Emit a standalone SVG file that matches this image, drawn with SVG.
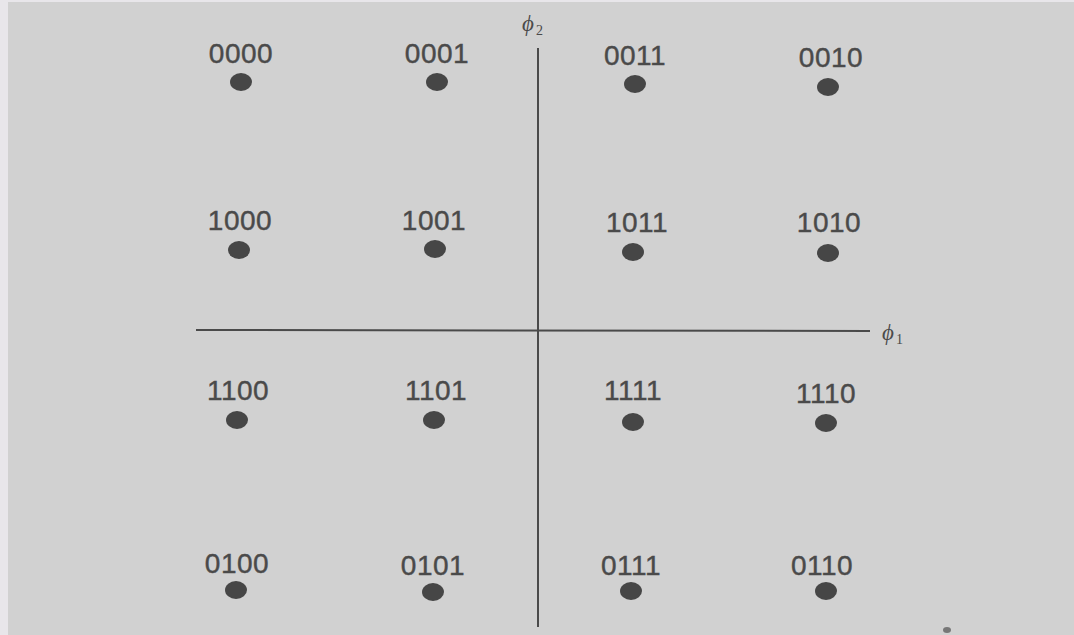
<svg xmlns="http://www.w3.org/2000/svg" width="1074" height="635" viewBox="0 0 1074 635">
<style>
.lbl{font-family:"Liberation Sans",Arial,sans-serif;font-size:28px;fill:#4a4a4a;stroke:#4a4a4a;stroke-width:0.4;text-anchor:middle;letter-spacing:0.5px}
.dot{fill:#464646}
.ax{stroke:#4a4a4a;stroke-width:2;fill:none}
.phi{font-family:"Liberation Serif","DejaVu Serif",serif;font-style:italic;font-size:23px;fill:#4a4a4a}
.sub{font-style:normal;font-size:14px}
</style>
<rect width="1074" height="635" fill="#e8e6ea"/>
<rect x="8" y="2" width="1066" height="633" fill="#d1d1d1"/>
<g id="axes">
<line class="ax" x1="538" y1="48" x2="538" y2="627"/>
<line class="ax" x1="196" y1="330" x2="870" y2="331"/>
<text class="phi" x="522" y="31">ϕ<tspan class="sub" dy="4" dx="2">2</tspan></text>
<text class="phi" x="882" y="340">ϕ<tspan class="sub" dy="4" dx="2">1</tspan></text>
</g>
<g id="n0000"><text class="lbl" x="241" y="63">0000</text><ellipse class="dot" cx="241" cy="82" rx="11" ry="9"/></g>
<g id="n0001"><text class="lbl" x="437" y="63">0001</text><ellipse class="dot" cx="437" cy="82" rx="11" ry="9"/></g>
<g id="n0011"><text class="lbl" x="635" y="65">0011</text><ellipse class="dot" cx="635" cy="84" rx="11" ry="9"/></g>
<g id="n0010"><text class="lbl" x="831" y="67">0010</text><ellipse class="dot" cx="828" cy="87" rx="11" ry="9"/></g>
<g id="n1000"><text class="lbl" x="240" y="230">1000</text><ellipse class="dot" cx="239" cy="250" rx="11" ry="9"/></g>
<g id="n1001"><text class="lbl" x="434" y="230">1001</text><ellipse class="dot" cx="435" cy="249" rx="11" ry="9"/></g>
<g id="n1011"><text class="lbl" x="637" y="232">1011</text><ellipse class="dot" cx="633" cy="252" rx="11" ry="9"/></g>
<g id="n1010"><text class="lbl" x="829" y="232">1010</text><ellipse class="dot" cx="828" cy="253" rx="11" ry="9"/></g>
<g id="n1100"><text class="lbl" x="238" y="400">1100</text><ellipse class="dot" cx="237" cy="420" rx="11" ry="9"/></g>
<g id="n1101"><text class="lbl" x="436" y="400">1101</text><ellipse class="dot" cx="434" cy="420" rx="11" ry="9"/></g>
<g id="n1111"><text class="lbl" x="633" y="400">1111</text><ellipse class="dot" cx="633" cy="422" rx="11" ry="9"/></g>
<g id="n1110"><text class="lbl" x="826" y="403">1110</text><ellipse class="dot" cx="826" cy="423" rx="11" ry="9"/></g>
<g id="n0100"><text class="lbl" x="237" y="573">0100</text><ellipse class="dot" cx="236" cy="590" rx="11" ry="9"/></g>
<g id="n0101"><text class="lbl" x="433" y="575">0101</text><ellipse class="dot" cx="433" cy="592" rx="11" ry="9"/></g>
<g id="n0111"><text class="lbl" x="631" y="575">0111</text><ellipse class="dot" cx="631" cy="591" rx="11" ry="9"/></g>
<g id="n0110"><text class="lbl" x="822" y="575">0110</text><ellipse class="dot" cx="826" cy="591" rx="11" ry="9"/></g>
<ellipse cx="947" cy="630" rx="4" ry="3" fill="#777"/>
</svg>
